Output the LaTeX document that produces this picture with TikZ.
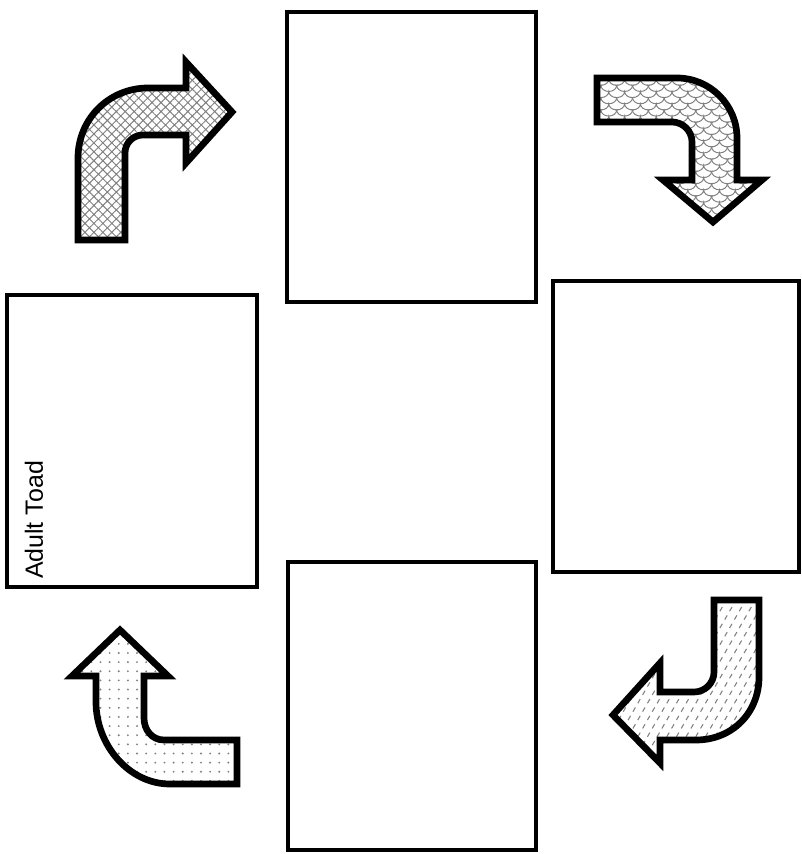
\documentclass[tikz,border=0pt]{standalone}
\usepackage{fontspec}
\setmainfont{Liberation Sans}
\usepackage{tikz}
\usetikzlibrary{patterns,patterns.meta}
\pgfdeclarepatternformonly{scales}{\pgfqpoint{-1pt}{-1pt}}{\pgfqpoint{10pt}{8pt}}{\pgfqpoint{9pt}{7pt}}{%
  \pgfsetlinewidth{0.55pt}
  \pgfpathmoveto{\pgfqpoint{0pt}{3.5pt}}\pgfpatharc{180}{360}{4.5pt and 3.5pt}
  \pgfpathmoveto{\pgfqpoint{-4.5pt}{7pt}}\pgfpatharc{180}{360}{4.5pt and 3.5pt}\pgfpatharc{180}{360}{4.5pt and 3.5pt}
  \pgfusepath{stroke}}
\pgfdeclarepatternformonly{dashlines}{\pgfqpoint{-1pt}{-1pt}}{\pgfqpoint{6.5pt}{10.5pt}}{\pgfqpoint{5.5pt}{9.53pt}}{%
  \pgfsetlinewidth{0.6pt}
  \pgfpathmoveto{\pgfqpoint{0pt}{0pt}}\pgfpathlineto{\pgfqpoint{1.375pt}{2.38pt}}
  \pgfpathmoveto{\pgfqpoint{2.75pt}{4.76pt}}\pgfpathlineto{\pgfqpoint{4.125pt}{7.145pt}}
  \pgfusepath{stroke}}
\tikzset{
  stagebox/.style={draw=black, line width=2.6pt, fill=white},
  bentarrow/.style={draw=black, line width=3.8pt, line join=miter},
  stagelabel/.style={font=\fontsize{14.2}{16}\selectfont, rotate=90, inner sep=0pt},
}
\begin{document}
\begin{tikzpicture}[x=0.02cm,y=-0.02cm]
\path[use as bounding box] (0,0) rectangle (801,854);
% stage boxes
\draw[stagebox] (287,12) rectangle (536,302);
\draw[stagebox] (553,281) rectangle (799,572);
\draw[stagebox] (288,562) rectangle (536,850);
\draw[stagebox] (7,295) rectangle (257,587);
\node[stagelabel] (adult) at (34,520) {Adult Toad};
% bent arrows
\draw[bentarrow,preaction={fill=white},preaction={pattern={Hatch[angle=45,distance=3.6pt,line width=0.55pt]},pattern color=gray}]
  (78,240) -- (78,158) .. controls (78,119) and (109,88) .. (148,88) -- (186,88) -- (186,62)
  -- (232,112) -- (186,163) -- (186,135) -- (143,135) .. controls (133,135) and (125,143) .. (125,153)
  -- (125,240) -- cycle;
\draw[bentarrow,preaction={fill=white},preaction={pattern=scales,pattern color=gray}]
  (597,78) -- (677,78) .. controls (710,78) and (737,105) .. (737,138) -- (737,180) -- (762,180)
  -- (713,222) -- (663,180) -- (692,180) -- (692,142) .. controls (692,131) and (683,122) .. (672,122)
  -- (597,122) -- cycle;
\draw[bentarrow,preaction={fill=white},preaction={pattern=dashlines,pattern color=gray}]
  (714,600) -- (759,600) -- (759,677) .. controls (759,713) and (732,740) .. (696,740) -- (660,740)
  -- (660,763) -- (613,715) -- (660,663) -- (660,692) -- (694,692) .. controls (705,692) and (714,683) .. (714,672)
  -- cycle;
\draw[bentarrow,preaction={fill=white},preaction={pattern={Dots[distance=5.2pt,radius=0.6pt]},pattern color=gray}]
  (120,630) -- (168,676) -- (144,676) -- (144,718) .. controls (144,730) and (152,740) .. (164,740)
  -- (237,740) -- (237,784) -- (170,784) .. controls (129,784) and (96,745) .. (96,702)
  -- (96,676) -- (72,676) -- cycle;
\end{tikzpicture}
\end{document}
